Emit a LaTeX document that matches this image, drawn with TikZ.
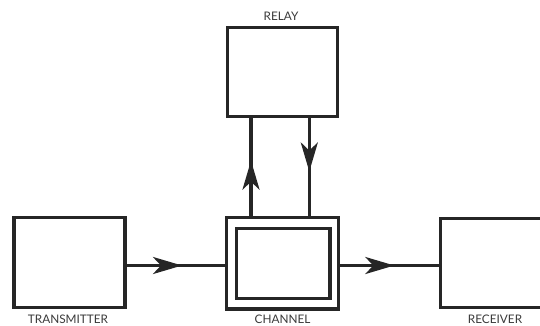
\documentclass[tikz,border=0pt]{standalone}
\usepackage{fontspec}
\setmainfont{Lato}
\usetikzlibrary{arrows.meta,decorations.markings}
\definecolor{ink}{HTML}{262626}
\definecolor{txt}{HTML}{3A3A3A}
\tikzset{
  blk/.style={draw=ink, line width=3.4pt, fill=white, inner sep=0pt, outer sep=0pt},
  wire/.style={draw=ink, line width=3.4pt},
  lbl/.style={text=txt, font=\fontsize{11.8}{13}\selectfont, anchor=base, inner sep=0pt},
  mytip/.tip={Stealth[length=29pt, width=17pt, inset=8pt]},
  midarrow/.style={postaction={decorate, decoration={markings, mark=at position #1 with {\arrow{mytip}}}}}
}
\begin{document}
\begin{tikzpicture}[x=1pt, y=-1pt]
\useasboundingbox (0,0) rectangle (540,325);
\clip (0,0) rectangle (540,325);
\node[blk, minimum width=111pt, minimum height=90pt] (tx) at (69.5,262.5) {};
\node[blk, minimum width=110pt, minimum height=89pt] (relay) at (282.5,72) {};
\node[blk, minimum width=111.6pt, minimum height=91.3pt] (ch) at (282.5,263.3) {};
\node[blk, minimum width=93.3pt, minimum height=70pt] (chin) at (283.3,263.3) {};
\node[blk, minimum width=111pt, minimum height=89.5pt] (rx) at (496,263) {};
\coordinate (ly) at (0,265.5);
\coordinate (lx) at (251,0);
\coordinate (rxx) at (309.3,0);
\draw[wire, midarrow=57pt] (tx.east |- ly) -- (ch.west |- ly);
\draw[wire, midarrow=56pt] (ch.east |- ly) -- (rx.west |- ly);
\draw[wire, midarrow=57pt] (ch.north -| lx) -- (relay.south -| lx);
\draw[wire, midarrow=55pt] (relay.south -| rxx) -- (ch.north -| rxx);
\node[lbl] (ltx) at (68,323) {TRANSMITTER};
\node[lbl] (lrelay) at (281,20.7) {RELAY};
\node[lbl] (lch) at (282.5,323) {CHANNEL};
\node[lbl] (lrx) at (495,323.5) {RECEIVER};
\end{tikzpicture}
\end{document}
